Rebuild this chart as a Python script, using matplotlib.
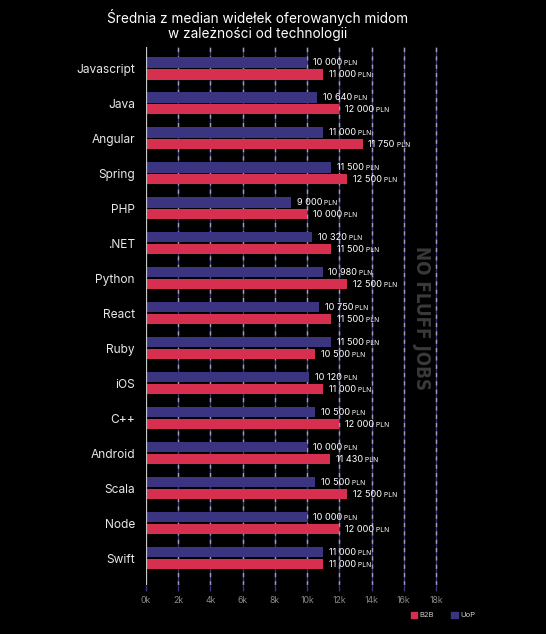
import numpy as np
import matplotlib.pyplot as plt
from matplotlib.patches import Patch

# data
technologies = ["Javascript", "Java", "Angular", "Spring", "PHP", ".NET", "Python",
                "React", "Ruby", "iOS", "C++", "Android", "Scala", "Node", "Swift"]
uop = [10000, 10640, 11000, 11500, 9000, 10320, 10980, 10750, 11500, 10120,
       10500, 10000, 10500, 10000, 11000]
b2b = [11000, 12000, 13450, 12500, 10000, 11500, 12500, 11500, 10500, 11000,
       12000, 11430, 12500, 12000, 11000]
# printed labels (Angular B2B label differs from its bar length in the source)
uop_labels = ["10 000", "10 640", "11 000", "11 500", "9 000", "10 320", "10 980",
              "10 750", "11 500", "10 120", "10 500", "10 000", "10 500", "10 000", "11 000"]
b2b_labels = ["11 000", "12 000", "11 750", "12 500", "10 000", "11 500", "12 500",
              "11 500", "10 500", "11 000", "12 000", "11 430", "12 500", "12 000", "11 000"]
xticks = [0, 2000, 4000, 6000, 8000, 10000, 12000, 14000, 16000, 18000]
xtick_labels = ["0k", "2k", "4k", "6k", "8k", "10k", "12k", "14k", "16k", "18k"]

RED = "#d62f4f"
NAVY = "#3b3581"
BG = "#000000"

plt.rcParams['font.family'] = ['Inter', 'DejaVu Sans']

W, H = 546, 634
XMAX = 18200
fig = plt.figure(figsize=(W / 100, H / 100), dpi=100, facecolor=BG)
ax = fig.add_axes([146 / W, 1 - 585 / H, 290 * XMAX / 18000 / W, (585 - 47) / H])
ax.set_facecolor(BG)

y = np.arange(len(technologies))
bh = 0.29
off = 0.17

# grid lines: navy base with grey dashes on top
for xv in xticks[1:]:
    ax.axvline(xv, color=NAVY, lw=1.0, zorder=0)
    ax.axvline(xv, color="#a0a0aa", lw=1.0, dashes=(3, 3), zorder=0)
ax.axvline(0, color="#c8c8c8", lw=0.9, zorder=3)

ax.barh(y - off, uop, height=bh, color=NAVY, zorder=2)
ax.barh(y + off, b2b, height=bh, color=RED, zorder=2)


def add_label(v, yi, txt):
    t = ax.annotate(txt, xy=(v, yi), xytext=(4, 0), textcoords="offset points",
                    va="center", ha="left", color="white", fontsize=6.6, zorder=4)
    ax.annotate(" PLN", xy=(1, 0.1), xycoords=t, va="bottom", ha="left",
                color="white", fontsize=4.9, zorder=4)


for yi, v, txt in zip(y - off, uop, uop_labels):
    add_label(v, yi, txt)
for yi, v, txt in zip(y + off, b2b, b2b_labels):
    add_label(v, yi, txt)

ax.set_xlim(0, XMAX)
ax.set_ylim(14.77, -0.615)
ax.set_yticks(y)
ax.set_yticklabels(technologies, color="#e8e8e8", fontsize=8.6)
ax.tick_params(axis="y", length=0, pad=8)
ax.set_xticks(xticks)
ax.set_xticklabels(xtick_labels, color="#8a8a8a", fontsize=6.3)
ax.tick_params(axis="x", length=4, width=1, color=NAVY, pad=4)
ax.get_xticklines()[0].set_color("#d0d0d0")
for s in ax.spines.values():
    s.set_visible(False)

# watermark
fig.text(421 / W, 1 - 318 / H, "NO FLUFF JOBS", rotation=270, color="#3a3a3a",
         fontsize=13.5, fontweight="bold", ha="center", va="center",
         family=["DejaVu Sans"], fontstretch="condensed")

fig.suptitle("Średnia z median widełek oferowanych midom\nw zależności od technologii",
             color="white", fontsize=9.8, y=1 - 9 / H, va="top", linespacing=1.1,
             x=258 / W)

handles = [Patch(color=RED, label="B2B"), Patch(color=NAVY, label="UoP")]
fig.legend(handles=handles, loc="center", bbox_to_anchor=(443 / W, 1 - 615 / H),
           ncol=2, frameon=False, fontsize=5.5, labelcolor="#cccccc",
           handlelength=0.9, handleheight=0.9, handletextpad=0.3, columnspacing=2.2)

fig.savefig("out.png", dpi=100, facecolor=BG)
